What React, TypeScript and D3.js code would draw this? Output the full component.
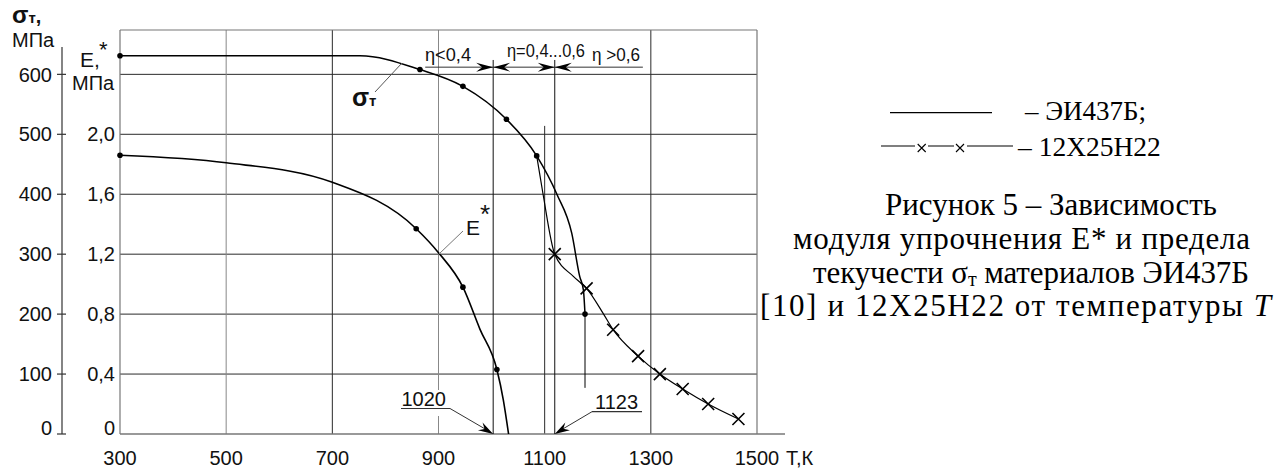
import React from "react";
import * as d3 from "d3";

// ---------- data ----------
const xTicks = [300, 500, 700, 900, 1100, 1300, 1500];
const sigmaTicks = [0, 100, 200, 300, 400, 500, 600];
const eTicks = [0, 0.4, 0.8, 1.2, 1.6, 2.0];
const eTickLabels = ["0", "0,4", "0,8", "1,2", "1,6", "2,0"];

// σт of ЭИ437Б
const sigmaEI_T = [300, 752, 865, 946, 1028, 1085, 1123, 1151, 1166, 1173, 1176];
const sigmaEI_V = [631, 631, 608, 580, 525, 464, 400, 335, 263, 240, 200];
const sigmaEI_dotT = [300, 865, 946, 1028, 1085, 1176];
const sigmaEI_dotV = [631, 608, 580, 525, 464, 200];
const sigmaEI_tailT = [1176, 1176];
const sigmaEI_tailV = [200, 77];

// E* of ЭИ437Б
const eEI_T = [300, 500, 700, 858, 900, 946, 978, 1010, 1022, 1032];
const eEI_V = [1.86, 1.81, 1.68, 1.37, 1.21, 0.98, 0.7, 0.43, 0.23, 0];
const eEI_dotT = [300, 858, 946, 1010];
const eEI_dotV = [1.86, 1.37, 0.98, 0.43];

// σт of 12Х25Н22
const sigma12_T = [1085, 1097, 1119, 1154, 1179, 1211, 1229, 1276, 1317, 1360, 1408, 1465];
const sigma12_V = [464, 400, 300, 263, 243, 200, 174, 130, 100, 75, 50, 25];
const sigma12_crossT = [1119, 1179, 1229, 1276, 1317, 1360, 1408, 1465];
const sigma12_crossV = [300, 243, 174, 130, 100, 75, 50, 25];

// marker lines (temperature boundaries) and their labels
const markerT = [1003, 1119];
const markerLabels = ["1020", "1123"];
const etaLabels = ["η<0,4", "η=0,4...0,6", "η >0,6"];
const etaRangeT = [875, 1285];
const etaSigma = 612;

const legendLabels = ["– ЭИ437Б;", "– 12Х25Н22"];

const SANS = "'Liberation Sans', Arial, sans-serif";
const SERIF = "'Liberation Serif', 'Times New Roman', serif";

export default function App() {
  const x = d3.scaleLinear().domain([300, 1500]).range([120, 757]);
  const yS = d3.scaleLinear().domain([0, 674]).range([434, 30]);
  const yE = d3.scaleLinear().domain([0, 2.4]).range([yS(0), yS(600)]);
  const line = d3.line<[number, number]>().curve(d3.curveMonotoneX);
  const pts = (T: number[], V: number[], ys: (v: number) => number) =>
    T.map((t, i) => [x(t), ys(V[i])] as [number, number]);

  const x0 = x(300), x1 = x(1500), yb = yS(0), yt = yS(674);

  const chevron = (tx: number, ty: number, dir: number) =>
    `M${tx},${ty} L${tx - dir * 17},${ty - 4.5} L${tx - dir * 11},${ty} L${tx - dir * 17},${ty + 4.5} Z`;
  const leaderHead = (sx: number, sy: number, tx: number, ty: number) => {
    const dx = tx - sx, dy = ty - sy, L = Math.hypot(dx, dy);
    const ux = dx / L, uy = dy / L, nx = -uy, ny = ux;
    const b = 15, n = 4.5, m = 10;
    return `M${tx},${ty} L${tx - ux * b + nx * n},${ty - uy * b + ny * n} L${tx - ux * m},${ty - uy * m} L${tx - ux * b - nx * n},${ty - uy * b - ny * n} Z`;
  };

  const grid = "#2a2a2a";
  const frame = "#777";
  const etaY = yS(etaSigma);
  const mk0 = x(markerT[0]);
  const mk1 = x(markerT[1]);
  const tickFs = 20;

  return (
    <svg width={1280} height={473} style={{ position: "absolute", left: 0, top: 0, background: "#fff" }}
      fontFamily={SANS}>
      <rect x={0} y={0} width={1280} height={473} fill="#fff" />

      {/* horizontal grid */}
      {sigmaTicks.filter((t) => t > 0).map((t) => (
        <line key={"h" + t} x1={x0} x2={x1} y1={yS(t)} y2={yS(t)} stroke={grid} strokeWidth={1} />
      ))}
      {/* vertical grid */}
      {xTicks.filter((t) => t > 300 && t < 1500).map((t) => (
        <line key={"v" + t} x1={x(t)} x2={x(t)} y1={t === 1100 ? yS(514) : yt} y2={yb}
          stroke={t === 500 || t === 900 ? "#888" : grid} strokeWidth={1} />
      ))}
      {/* frame */}
      <line x1={x0} x2={x1} y1={yt} y2={yt} stroke={frame} strokeWidth={1.2} />
      <line x1={x0} x2={x0} y1={yt} y2={yb} stroke={frame} strokeWidth={1.2} />
      <line x1={x1} x2={x1} y1={yt} y2={yb} stroke={frame} strokeWidth={1.2} />
      <line x1={x0} x2={785} y1={yb} y2={yb} stroke={frame} strokeWidth={1.4} />

      {/* marker lines */}
      {markerT.map((t) => (
        <line key={"m" + t} x1={x(t)} x2={x(t)} y1={yS(624)} y2={yb} stroke="#111" strokeWidth={1} />
      ))}

      {/* left sigma axis */}
      <line x1={62} x2={62} y1={47} y2={yb} stroke="#333" strokeWidth={1.2} />
      {sigmaTicks.map((t) => (
        <g key={"st" + t}>
          <line x1={57} x2={66} y1={yS(t)} y2={yS(t)} stroke="#333" strokeWidth={1.2} />
          <text x={52} y={yS(t) - (t === 0 ? 6 : 0)} dy="0.36em" textAnchor="end" fontSize={tickFs} fill="#111">
            {t}
          </text>
        </g>
      ))}
      {/* E* axis labels */}
      {eTicks.map((t, i) => (
        <text key={"et" + t} x={115} y={yE(t) - (t === 0 ? 6 : 0)} dy="0.36em" textAnchor="end" fontSize={tickFs} fill="#111">
          {eTickLabels[i]}
        </text>
      ))}
      {/* x tick labels */}
      {xTicks.map((t) => (
        <text key={"xt" + t} x={x(t)} y={465} textAnchor="middle" fontSize={tickFs} fill="#111">
          {t}
        </text>
      ))}
      <text x={786} y={465} fontSize={tickFs} fill="#111">Т,К</text>

      {/* axis titles */}
      <text x={12} y={23} fontSize={24} fontWeight="bold" fill="#111">
        σ<tspan fontSize={15}>т</tspan><tspan fontSize={20}>,</tspan>
      </text>
      <text x={12} y={47} fontSize={tickFs} fill="#111">МПа</text>
      <text x={80} y={67} fontSize={21} fill="#111">E,</text>
      <text x={99} y={57} fontSize={22} fill="#111">*</text>
      <text x={72} y={90} fontSize={tickFs} fill="#111">МПа</text>

      {/* curves */}
      <path d={line(pts(sigmaEI_T, sigmaEI_V, yS)) || ""} fill="none" stroke="#000" strokeWidth={1.5} />
      <path d={d3.line()(pts(sigmaEI_tailT, sigmaEI_tailV, yS)) || ""} fill="none" stroke="#000" strokeWidth={1} />
      <path d={line(pts(eEI_T, eEI_V, yE)) || ""} fill="none" stroke="#000" strokeWidth={1.6} />
      <path d={line(pts(sigma12_T, sigma12_V, yS)) || ""} fill="none" stroke="#000" strokeWidth={1.2} />

      {sigmaEI_dotT.map((t, i) => (
        <circle key={"sd" + i} cx={x(t)} cy={yS(sigmaEI_dotV[i])} r={2.8} fill="#000" />
      ))}
      {eEI_dotT.map((t, i) => (
        <circle key={"ed" + i} cx={x(t)} cy={yE(eEI_dotV[i])} r={2.8} fill="#000" />
      ))}
      {sigma12_crossT.map((t, i) => {
        const cx = x(t), cy = yS(sigma12_crossV[i]), s = 6;
        return (
          <path key={"cx" + i} d={`M${cx - s},${cy - s} L${cx + s},${cy + s} M${cx - s},${cy + s} L${cx + s},${cy - s}`}
            stroke="#000" strokeWidth={1.6} />
        );
      })}

      {/* curve labels */}
      <line x1={375} y1={92} x2={402} y2={63} stroke="#555" strokeWidth={1} />
      <text x={352} y={106} fontSize={25} fontWeight="bold" fill="#111">
        σ<tspan fontSize={15}>т</tspan>
      </text>
      <line x1={463} y1={231} x2={439} y2={254} stroke="#777" strokeWidth={1} />
      <text x={466} y={235} fontSize={21} fill="#111">
        E<tspan fontSize={26} dy={-12}>*</tspan>
      </text>

      {/* η dimension */}
      <line x1={x(etaRangeT[0])} x2={x(etaRangeT[1])} y1={etaY} y2={etaY} stroke="#333" strokeWidth={1} />
      <path d={chevron(mk0, etaY, 1)} fill="#000" />
      <path d={chevron(mk0, etaY, -1)} fill="#000" />
      <path d={chevron(mk1, etaY, 1)} fill="#000" />
      <path d={chevron(mk1, etaY, -1)} fill="#000" />
      <text x={425} y={61} fontSize={18} fill="#111" textLength={46} lengthAdjust="spacingAndGlyphs">{etaLabels[0]}</text>
      <text x={507} y={57} fontSize={18} fill="#111" textLength={78} lengthAdjust="spacingAndGlyphs">{etaLabels[1]}</text>
      <text x={592} y={61} fontSize={18} fill="#111" textLength={48} lengthAdjust="spacingAndGlyphs">{etaLabels[2]}</text>

      {/* boundary labels */}
      <rect x={400} y={390} width={52} height={26} fill="#fff" />
      <text x={401.5} y={406} fontSize={tickFs} fill="#111">{markerLabels[0]}</text>
      <line x1={401} x2={450} y1={408.5} y2={408.5} stroke="#333" strokeWidth={1.2} />
      <line x1={450} y1={408.5} x2={mk0 - 8} y2={yb - 5} stroke="#333" strokeWidth={1} />
      <path d={leaderHead(450, 408.5, mk0, yb)} fill="#000" />

      <text x={595} y={409} fontSize={tickFs} fill="#111">{markerLabels[1]}</text>
      <line x1={592} x2={642} y1={411.7} y2={411.7} stroke="#333" strokeWidth={1.2} />
      <line x1={592} y1={411.7} x2={mk1 + 8} y2={yb - 5} stroke="#333" strokeWidth={1} />
      <path d={leaderHead(592, 411.7, mk1, yb)} fill="#000" />

      {/* legend */}
      <g fontFamily={SERIF} fill="#000">
        <line x1={890} x2={992} y1={112.7} y2={112.7} stroke="#000" strokeWidth={1.2} />
        <text x={1025} y={120} fontSize={27}>{legendLabels[0]}</text>
        <line x1={881} x2={1013} y1={146} y2={146} stroke="#000" strokeWidth={1.2} />
        <rect x={915} y={140} width={13} height={12} fill="#fff" />
        <rect x={954} y={140} width={13} height={12} fill="#fff" />
        {[921.7, 960].map((cx) => (
          <path key={"lx2" + cx} d={`M${cx - 4},${148 - 4} L${cx + 4},${148 + 4} M${cx - 4},${148 + 4} L${cx + 4},${148 - 4}`}
            stroke="#000" strokeWidth={1.1} />
        ))}
        <text x={1018} y={156} fontSize={27.5}>{legendLabels[1]}</text>

        {/* caption */}
        <text x={885} y={215} fontSize={31} textLength={332} lengthAdjust="spacing">Рисунок 5 – Зависимость</text>
        <text x={793} y={249} fontSize={31} textLength={457} lengthAdjust="spacing">модуля упрочнения Е* и предела</text>
        <text x={813} y={283} fontSize={31} textLength={436} lengthAdjust="spacing">
          текучести σ<tspan fontSize={20} dy={3}>т</tspan><tspan dy={-3}> материалов ЭИ437Б</tspan>
        </text>
        <text x={760} y={316} fontSize={31} textLength={511} lengthAdjust="spacing">
          [10] и 12Х25Н22 от температуры <tspan fontStyle="italic">T</tspan>
        </text>
      </g>
    </svg>
  );
}
